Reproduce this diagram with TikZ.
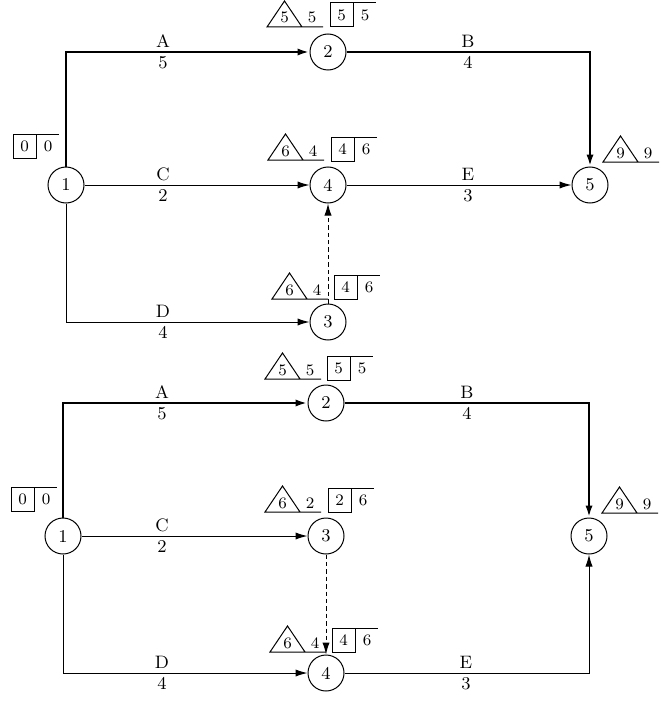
\documentclass[tikz,border=0pt]{standalone}
\usetikzlibrary{arrows.meta}
\newcommand\TriMark[3]{\begin{scope}[shift={#1}]
  \draw[mk] (56,0) -- (0,0) -- (17.5,-26) -- (35,0);
  \node[mknum,anchor=base] at (17.5,-4) {#2};
  \node[mknum,anchor=base] at (45,-4) {#3};
\end{scope}}
\newcommand\BoxMark[3]{\begin{scope}[shift={#1}]
  \draw[mk] (0,0) rectangle (23,-24) (23,-24) -- (46,-24);
  \node[mknum] at (11.5,-12) {#2};
  \node[mknum] at (35,-12) {#3};
\end{scope}}
\begin{document}
\begin{tikzpicture}[x=0.5pt,y=-0.5pt,
  ev/.style={circle,draw,line width=0.5pt,minimum size=18pt,inner sep=0pt,font=\small},
  tip/.style={-{Latex[length=6pt,width=3.6pt]}},
  crit/.style={tip,line width=1.3pt},
  act/.style={tip,line width=0.5pt},
  dummy/.style={tip,line width=0.5pt,dash pattern=on 2.2pt off 1.5pt},
  labup/.style={font=\small,inner sep=1pt,anchor=south},
  labdn/.style={font=\small,inner sep=1pt,anchor=north},
  mk/.style={line width=0.5pt},
  mknum/.style={font=\footnotesize,inner sep=0pt}]
\useasboundingbox (0,0) rectangle (660,706);
% ---------- top network ----------
\node[ev] (t1) at (66,185) {1};
\node[ev] (t2) at (328,52) {2};
\node[ev] (t4) at (328,185) {4};
\node[ev] (t5) at (590,185) {5};
\node[ev] (t3) at (328,322) {3};
\draw[crit] (t1.north) |- (t2.west);
\draw[crit] (t2.east) -| (t5.north);
\draw[act] (t1) -- (t4);
\draw[act] (t4) -- (t5);
\draw[act] (t1.south) |- (t3.west);
\draw[dummy] (t3) -- (t4);
\node[labup] (tA) at (163,50) {A};
\node[labdn] (tA2) at (163,54) {5};
\node[labup] (tB) at (468,50) {B};
\node[labdn] (tB2) at (468,54) {4};
\node[labup] (tC) at (163,183) {C};
\node[labdn] (tC2) at (163,187) {2};
\node[labup] (tE) at (468,183) {E};
\node[labdn] (tE2) at (468,187) {3};
\node[labup] (tD) at (163,320) {D};
\node[labdn] (tD2) at (163,324) {4};
\BoxMark{(13,158)}{0}{0}
\TriMark{(267,27)}{5}{5} \BoxMark{(330,27)}{5}{5}
\TriMark{(268,160)}{6}{4} \BoxMark{(331,161)}{4}{6}
\TriMark{(272,299)}{6}{4} \BoxMark{(334,299)}{4}{6}
\TriMark{(603,162)}{9}{9}
% ---------- bottom network ----------
\node[ev] (b1) at (63,536) {1};
\node[ev] (b2) at (326,403) {2};
\node[ev] (b3) at (326,536) {3};
\node[ev] (b5) at (589,536) {5};
\node[ev] (b4) at (326,673) {4};
\draw[crit] (b1.north) |- (b2.west);
\draw[crit] (b2.east) -| (b5.north);
\draw[act] (b1) -- (b3);
\draw[act] (b1.south) |- (b4.west);
\draw[act] (b4.east) -| (b5.south);
\draw[dummy] (b3) -- (b4);
\node[labup] (bA) at (162,401) {A};
\node[labdn] (bA2) at (162,405) {5};
\node[labup] (bB) at (467,401) {B};
\node[labdn] (bB2) at (467,405) {4};
\node[labup] (bC) at (162,534) {C};
\node[labdn] (bC2) at (162,538) {2};
\node[labup] (bD) at (162,671) {D};
\node[labdn] (bD2) at (162,675) {4};
\node[labup] (bE) at (466,671) {E};
\node[labdn] (bE2) at (466,675) {3};
\BoxMark{(11,511)}{0}{0}
\TriMark{(265,379)}{5}{5} \BoxMark{(327,380)}{5}{5}
\TriMark{(265,512)}{6}{2} \BoxMark{(328,512)}{2}{6}
\TriMark{(270,652)}{6}{4} \BoxMark{(332,652)}{4}{6}
\TriMark{(602,513)}{9}{9}
\end{tikzpicture}
\end{document}
